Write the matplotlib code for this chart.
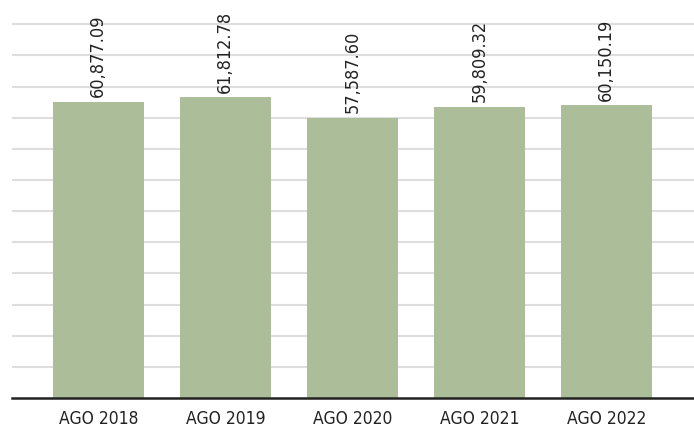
import matplotlib
matplotlib.use('Agg')
import matplotlib.pyplot as plt
import numpy as np

categories = ['AGO 2018', 'AGO 2019', 'AGO 2020', 'AGO 2021', 'AGO 2022']
values = [60877.09, 61812.78, 57587.60, 59809.32, 60150.19]

bar_color = '#abbd99'
grid_color = '#dedede'

plt.rcParams['font.family'] = ['DejaVu Sans']
plt.rcParams['font.stretch'] = 'condensed'

fig = plt.figure(figsize=(6.94, 4.27), dpi=100)
ax = fig.add_axes([12 / 694, 28 / 427, 682 / 694, 399 / 427])

x = np.arange(len(categories))
ax.bar(x, values, width=0.717, color=bar_color, zorder=2)

# value labels, rotated above each bar
for xi, v in zip(x, values):
    ax.annotate(f'{v:,.2f}', (xi, v), xytext=(0, 4), textcoords='offset points',
                rotation=90, ha='center', va='bottom', fontsize=13, color='#222222')

ax.set_xlim(-0.68, 4.69)
ax.set_ylim(0, 82000)
ax.set_yticks(np.arange(6400, 77000, 6400))
ax.yaxis.grid(True, color=grid_color, linewidth=1.5, zorder=0)
ax.tick_params(axis='y', left=False, labelleft=False)
ax.set_xticks(x)
ax.set_xticklabels(categories, fontsize=12.5, color='#222222')
ax.tick_params(axis='x', length=0, pad=8)

for s in ['top', 'right', 'left']:
    ax.spines[s].set_visible(False)
ax.spines['bottom'].set_color('#222222')
ax.spines['bottom'].set_linewidth(1.8)
ax.spines['bottom'].set_zorder(3)

fig.savefig('out.png', dpi=100)
